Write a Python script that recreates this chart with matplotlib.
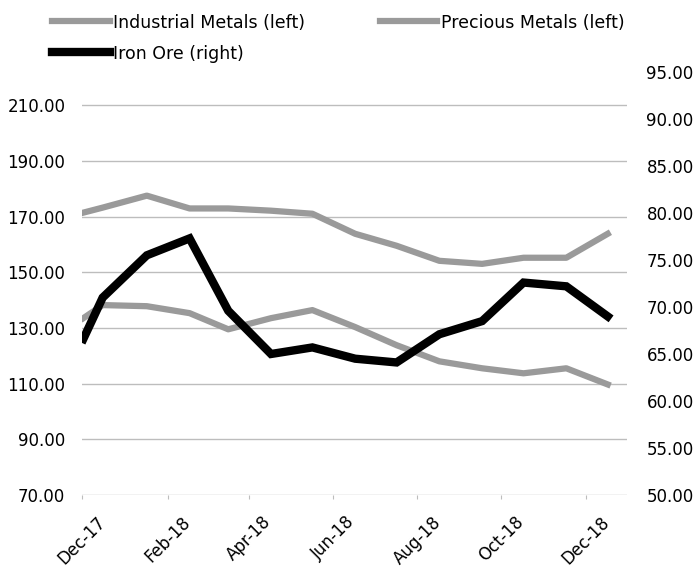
# Metals price indices vs iron ore, Dec-17 to Dec-18
import matplotlib
matplotlib.use('Agg')
import matplotlib.pyplot as plt
import matplotlib.dates as mdates
import numpy as np
import pandas as pd

# Observation dates (first two points fall in Dec-17, then mid-month)
dates = pd.to_datetime([
    '2017-12-02', '2017-12-16', '2018-01-17', '2018-02-17', '2018-03-17',
    '2018-04-17', '2018-05-17', '2018-06-17', '2018-07-17', '2018-08-17',
    '2018-09-17', '2018-10-17', '2018-11-17', '2018-12-17'])

# Left axis series
industrial = [133.5, 138.2, 137.8, 135.3, 129.5, 133.5, 136.4,
              130.3, 123.8, 118.0, 115.5, 113.7, 115.5, 109.7]
precious = [171.4, 173.2, 177.5, 172.9, 172.9, 172.1, 171.0,
            163.8, 159.5, 154.1, 153.0, 155.2, 155.2, 163.8]

# Right axis series
iron_ore = [66.6, 71.0, 75.5, 77.3, 69.6, 65.0, 65.7,
            64.5, 64.1, 67.1, 68.5, 72.6, 72.2, 69.0]

left_ticks = [70, 90, 110, 130, 150, 170, 190, 210]
right_ticks = [50, 55, 60, 65, 70, 75, 80, 85, 90, 95]
x_ticks = pd.to_datetime(['2017-12-01', '2018-02-01', '2018-04-01', '2018-06-01',
                          '2018-08-01', '2018-10-01', '2018-12-01'])

plt.rcParams['font.family'] = 'DejaVu Sans'

fig = plt.figure(figsize=(6.97, 5.67), dpi=100)
ax = fig.add_axes([0.1176, 0.127, 0.782, 0.746])
ax2 = ax.twinx()

gray = '#9a9a9a'
l1, = ax.plot(dates, industrial, color=gray, linewidth=4.5,
              solid_joinstyle='round', label='Industrial Metals (left)')
l2, = ax.plot(dates, precious, color=gray, linewidth=4.5,
              solid_joinstyle='round', label='Precious Metals (left)')
l3, = ax2.plot(dates, iron_ore, color='black', linewidth=6,
               solid_joinstyle='miter', label='Iron Ore (right)')

# Axis ranges
ax.set_ylim(70, 221.9)
ax2.set_ylim(50, 95)
ax.set_xlim(pd.Timestamp('2017-12-01'), pd.Timestamp('2018-12-31'))

# Gridlines only on left ticks
ax.set_yticks(left_ticks)
ax.yaxis.grid(True, color='#bdbdbd', linewidth=1.0)
ax.set_axisbelow(True)
ax.set_yticklabels(['%.2f' % v for v in left_ticks])
ax2.set_yticks(right_ticks)
ax2.set_yticklabels(['%.2f' % v for v in right_ticks])

ax.set_xticks(x_ticks)
ax.xaxis.set_major_formatter(mdates.DateFormatter('%b-%y'))
for lbl in ax.get_xticklabels():
    lbl.set_rotation(45)
    lbl.set_ha('center')

for a in (ax, ax2):
    for s in a.spines.values():
        s.set_visible(False)

ax.tick_params(axis='y', length=0, labelsize=12, pad=12)
ax2.tick_params(axis='y', length=0, labelsize=12, pad=14)
ax.tick_params(axis='x', length=3, color='#bdbdbd', labelsize=12, pad=10)

# Legend across the top, row-major order
fig.legend([l1, l3, l2], [l1.get_label(), l3.get_label(), l2.get_label()],
           loc='upper left', bbox_to_anchor=(0.059, 0.996), ncol=2,
           frameon=False, fontsize=12.5, handlelength=3.3, handletextpad=0.2,
           columnspacing=4.3, labelspacing=0.75, borderpad=0.15)

fig.savefig('out.png', dpi=100)
